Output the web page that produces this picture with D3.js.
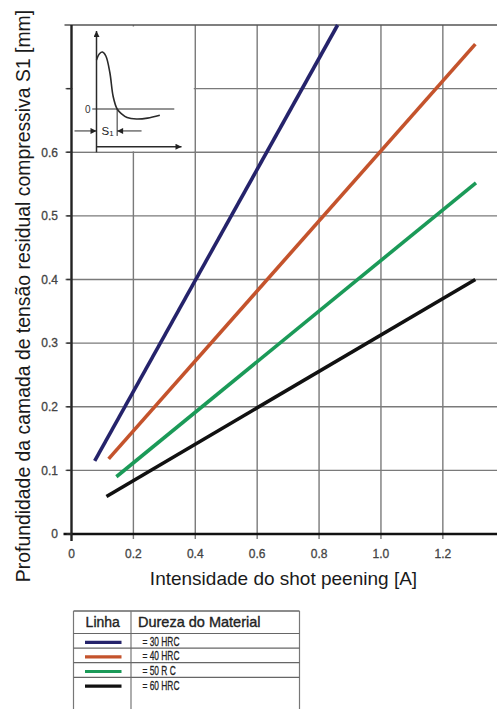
<!DOCTYPE html>
<html>
<head>
<meta charset="utf-8">
<script src="https://cdn.jsdelivr.net/npm/d3@7"></script>
<style>
  html, body { margin: 0; padding: 0; background: #fff; }
  svg { display: block; font-family: "Liberation Sans", Arial, sans-serif; }
</style>
</head>
<body>
<svg id="chart" width="497" height="709"></svg>
<script>
// Shot peening: depth of compressive residual stress layer vs. intensity
const materials = ["= 30 HRC", "= 40 HRC", "= 50 R C", "= 60 HRC"];
const lineColors = ["#25236b", "#c4532c", "#1b9a58", "#111111"];
const intensityStart = [0.075, 0.120, 0.145, 0.113];
const depthStart     = [0.115, 0.118, 0.090, 0.059];
const intensityEnd   = [0.860, 1.305, 1.307, 1.305];
const depthEnd       = [0.800, 0.770, 0.552, 0.400];

const xTicks = [0, 0.2, 0.4, 0.6, 0.8, 1.0, 1.2];
const xTickLabels = ["0", "0.2", "0.4", "0.6", "0.8", "1.0", "1.2"];
const yTicks = [0, 0.1, 0.2, 0.3, 0.4, 0.5, 0.6, 0.7];
const yTickLabels = ["0", "0.1", "0.2", "0.3", "0.4", "0.5", "0.6", ""];

// Schematic stress profile (depth, stress) for the small inset sketch
const profileDepth  = [0.00, 0.035, 0.07, 0.11, 0.157, 0.196, 0.243, 0.30, 0.36, 0.47, 0.60, 0.745];
const profileStress = [0.86, 0.97, 1.00, 0.93, 0.64, 0.22, 0.00, -0.09, -0.15, -0.175, -0.16, -0.11];

const svg = d3.select("#chart");
const x = d3.scaleLinear([0, 1.375], [71.5, 497]);
const y = d3.scaleLinear([0, 0.8], [534, 25]);

const gridColor = "#7a7a7a";

// grid
svg.append("g").selectAll("line").data(xTicks.slice(1)).join("line")
  .attr("x1", d => x(d)).attr("x2", d => x(d))
  .attr("y1", y(0) + 5).attr("y2", y(0.8))
  .attr("stroke", gridColor).attr("stroke-width", 1.4);
svg.append("g").selectAll("line").data(yTicks.slice(1)).join("line")
  .attr("x1", x(0) - 6).attr("x2", 497)
  .attr("y1", d => y(d)).attr("y2", d => y(d))
  .attr("stroke", gridColor).attr("stroke-width", 1.4);
// top border
svg.append("line").attr("x1", x(0) - 7).attr("x2", 497)
  .attr("y1", y(0.8)).attr("y2", y(0.8))
  .attr("stroke", "#555").attr("stroke-width", 1.6);

// inset panel background
const iL = x(0), iR = x(0.4), iT = y(0.8), iB = y(0.6);
svg.append("rect").attr("x", iL + 1).attr("y", iT + 1.5)
  .attr("width", iR - iL - 2.5).attr("height", iB - iT - 2.5).attr("fill", "#fff");

// axes
svg.append("line").attr("x1", x(0) - 8).attr("x2", 497)
  .attr("y1", y(0)).attr("y2", y(0))
  .attr("stroke", "#111").attr("stroke-width", 2.6);
svg.append("line").attr("x1", x(0)).attr("x2", x(0))
  .attr("y1", y(0.8)).attr("y2", y(0) + 7)
  .attr("stroke", "#222").attr("stroke-width", 2.4);
svg.append("g").selectAll("line").data(yTicks).join("line")
  .attr("x1", x(0) - 5).attr("x2", x(0))
  .attr("y1", d => y(d)).attr("y2", d => y(d))
  .attr("stroke", "#333").attr("stroke-width", 1.4);

// tick labels
svg.append("g").selectAll("text").data(xTicks).join("text")
  .attr("x", d => x(d)).attr("y", 557.5)
  .attr("text-anchor", "middle").attr("font-size", 12).attr("fill", "#444")
  .attr("stroke", "#444").attr("stroke-width", 0.3)
  .text((d, i) => xTickLabels[i]);
svg.append("g").selectAll("text").data(yTicks).join("text")
  .attr("x", 58).attr("y", d => y(d) + 4.3)
  .attr("text-anchor", "end").attr("font-size", 12).attr("fill", "#444")
  .attr("stroke", "#444").attr("stroke-width", 0.3)
  .text((d, i) => yTickLabels[i]);

// axis titles
svg.append("text").attr("x", 283.5).attr("y", 585)
  .attr("text-anchor", "middle").attr("font-size", 19).attr("fill", "#1a1a1a")
  .text("Intensidade do shot peening [A]");
svg.append("text").attr("transform", "translate(30,296) rotate(-90)")
  .attr("text-anchor", "middle").attr("font-size", 19.4).attr("fill", "#1a1a1a")
  .text("Profundidade da camada de tensão residual compressiva S1 [mm]");

// data lines
const plot = svg.append("g");
materials.forEach((m, i) => {
  plot.append("line")
    .attr("x1", x(intensityStart[i])).attr("y1", y(depthStart[i]))
    .attr("x2", x(intensityEnd[i])).attr("y2", y(depthEnd[i]))
    .attr("stroke", lineColors[i]).attr("stroke-width", 3.6)
    .attr("stroke-linecap", "butt");
});

// inset sketch
const defs = svg.append("defs");
defs.append("marker").attr("id", "ah").attr("viewBox", "0 0 10 10")
  .attr("refX", 10).attr("refY", 5).attr("markerWidth", 7).attr("markerHeight", 6)
  .attr("markerUnits", "userSpaceOnUse").attr("orient", "auto")
  .append("path").attr("d", "M0,0 L10,5 L0,10 z").attr("fill", "#222");

const sx = d3.scaleLinear([0, 1], [iL + 25, iL + 110]);
const sy = d3.scaleLinear([0, 1], [iT + 84, iT + 27]);
const inset = svg.append("g").attr("stroke", "#2a2a2a").attr("fill", "none");
inset.append("line").attr("x1", sx(0)).attr("x2", sx(0))
  .attr("y1", iB).attr("y2", iT + 6).attr("stroke-width", 1.5).attr("marker-end", "url(#ah)");
inset.append("line").attr("x1", sx(0)).attr("x2", sx(1))
  .attr("y1", iB - 5.5).attr("y2", iB - 5.5).attr("stroke-width", 1.5).attr("marker-end", "url(#ah)");
inset.append("line").attr("x1", sx(-0.05)).attr("x2", sx(0.915))
  .attr("y1", sy(0)).attr("y2", sy(0)).attr("stroke-width", 1.1);
inset.append("path")
  .attr("d", d3.line().x(d => sx(d[0])).y(d => sy(d[1])).curve(d3.curveCatmullRom)(
    profileDepth.map((d, i) => [d, profileStress[i]])))
  .attr("stroke-width", 1.6);
// S1 dimension
const s1 = profileDepth[6], dimY = sy(-0.385);
inset.append("line").attr("x1", sx(s1)).attr("x2", sx(s1))
  .attr("y1", sy(0)).attr("y2", dimY + 5).attr("stroke-width", 1);
inset.append("line").attr("x1", iL + 3).attr("x2", sx(0))
  .attr("y1", dimY).attr("y2", dimY).attr("stroke-width", 1).attr("marker-end", "url(#ah)");
inset.append("line").attr("x1", sx(0.53)).attr("x2", sx(s1))
  .attr("y1", dimY).attr("y2", dimY).attr("stroke-width", 1).attr("marker-end", "url(#ah)");
const s1Label = svg.append("text").attr("x", sx(0.06)).attr("y", dimY + 4.5)
  .attr("font-size", 11.5).attr("fill", "#222");
s1Label.append("tspan").text("S");
s1Label.append("tspan").attr("font-size", 8).attr("dy", 1).text("1");
svg.append("text").attr("x", sx(-0.07)).attr("y", sy(0) + 3.5)
  .attr("text-anchor", "end").attr("font-size", 10).attr("fill", "#333").text("0");

// legend table
const tL = 73.5, tDiv = 131, tR = 299.5, tTop = 611, hdrB = 633.5, rowH = 14.6;
const tbl = svg.append("g");
tbl.append("line").attr("x1", tL).attr("x2", tR).attr("y1", tTop).attr("y2", tTop)
  .attr("stroke", "#666").attr("stroke-width", 1.6);
[tL, tDiv, tR].forEach(xx => tbl.append("line").attr("x1", xx).attr("x2", xx)
  .attr("y1", tTop).attr("y2", 709).attr("stroke", "#777").attr("stroke-width", 1.2));
const rowLines = materials.slice(0, 3).map((m, i) => hdrB + (i + 1) * rowH);
[hdrB].concat(rowLines).forEach(yy => tbl.append("line").attr("x1", tL).attr("x2", tR)
  .attr("y1", yy).attr("y2", yy).attr("stroke", "#666").attr("stroke-width", 1.2));
tbl.append("text").attr("x", (tL + tDiv) / 2 + 0.5).attr("y", 627).attr("text-anchor", "middle")
  .attr("font-size", 14).attr("fill", "#222").attr("stroke", "#222").attr("stroke-width", 0.35)
  .text("Linha");
tbl.append("text").attr("x", 138).attr("y", 627)
  .attr("font-size", 14.5).attr("fill", "#222").attr("stroke", "#222").attr("stroke-width", 0.35)
  .text("Dureza do Material");
materials.forEach((m, i) => {
  const cy = hdrB + i * rowH + rowH / 2;
  tbl.append("line").attr("x1", 85).attr("x2", 121.5).attr("y1", cy + 1.5).attr("y2", cy + 1.5)
    .attr("stroke", lineColors[i]).attr("stroke-width", 3.2);
  tbl.append("text").attr("transform", `translate(142.5,${cy + 5}) scale(0.62,1)`)
    .attr("font-size", 13.5).attr("fill", "#222").attr("stroke", "#222").attr("stroke-width", 0.3)
    .text(m);
});
</script>
</body>
</html>
